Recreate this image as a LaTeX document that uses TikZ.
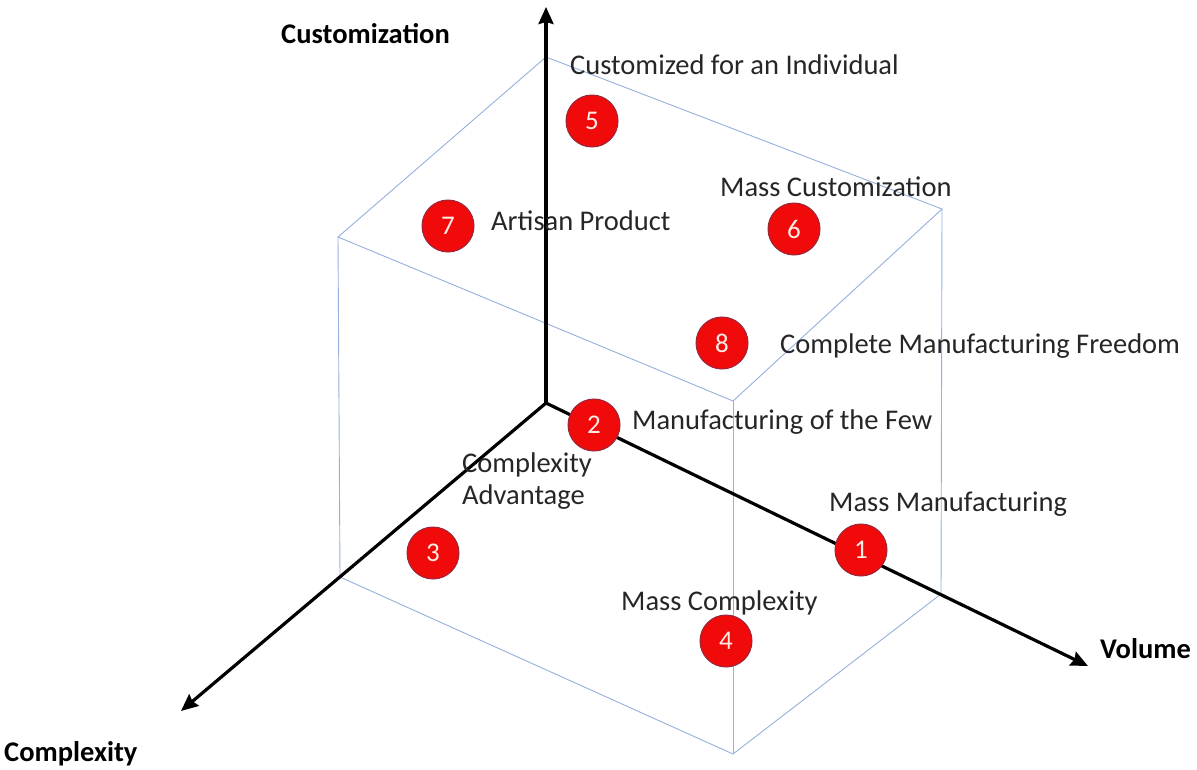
\documentclass[tikz,border=0pt]{standalone}
\usepackage{fontspec}
\setmainfont{Carlito}
\usetikzlibrary{arrows.meta}
\definecolor{cubeblue}{RGB}{150,175,220}
\definecolor{dotred}{RGB}{240,10,10}
\definecolor{dotedge}{RGB}{150,40,60}
\definecolor{numcol}{RGB}{255,235,230}
\tikzset{
  cubeedge/.style={draw=cubeblue, line width=0.9pt},
  axisline/.style={draw=black, line width=3.2pt, -{Stealth[length=17pt,width=15pt,inset=2pt]}},
  dot/.style={circle, fill=dotred, draw=dotedge, line width=1pt, minimum size=52pt, inner sep=0pt,
    text=numcol, font=\fontsize{27}{30}\selectfont},
  lbl/.style={anchor=base west, inner sep=0pt, font=\fontsize{28.5}{32}\selectfont, text=black!85},
  axlbl/.style={anchor=base west, inner sep=0pt, font=\fontsize{28.5}{32}\selectfont\bfseries, text=black}
}
\begin{document}
\begin{tikzpicture}[x=1pt,y=-1pt]
\useasboundingbox (0,0) rectangle (1197,769);
% cube vertices
\coordinate (O) at (546,403);
\coordinate (TB) at (546,57);
\coordinate (LT) at (338,237);
\coordinate (RT) at (942,209);
\coordinate (FT) at (733,401);
\coordinate (LB) at (340,577);
\coordinate (RB) at (941,594);
\coordinate (FB) at (733,754);
% cube edges
\draw[cubeedge] (TB) -- (LT) -- (FT) -- (RT) -- cycle;
\draw[cubeedge] (LT) -- (LB) -- (FB) -- (RB) -- (RT);
\draw[cubeedge] (FT) -- (FB);
\draw[cubeedge] (TB) -- (O);
\draw[cubeedge] (O) -- (LB);
\draw[cubeedge] (O) -- (RB);
% axes
\coordinate (cust) at (546,7);
\coordinate (vol) at (1088,666);
\coordinate (comp) at (181,711);
\draw[axisline] (O) -- (cust);
\draw[axisline] (O) -- (vol);
\draw[axisline] (O) -- (comp);
% axis labels
\node[axlbl] (tcust) at (281,43) {Customization};
\node[axlbl] (tvol) at (1100,658) {Volume};
\node[axlbl] (tcomp) at (4,761) {Complexity};
% dots
\node[dot] (n5) at (592,121) {5};
\node[dot] (n7) at (448,226) {7};
\node[dot] (n6) at (794,229) {6};
\node[dot] (n8) at (722,343) {8};
\node[dot] (n2) at (594,425) {2};
\node[dot] (n3) at (433,553) {3};
\node[dot] (n1) at (861,550) {1};
\node[dot] (n4) at (726,641) {4};
% labels
\node[lbl] (l5) at (570,74) {Customized for an Individual};
\node[lbl] (l6) at (720,196) {Mass Customization};
\node[lbl] (l7) at (491,230) {Artisan Product};
\node[lbl] (l8) at (780,353) {Complete Manufacturing Freedom};
\node[lbl] (l2) at (632,429) {Manufacturing of the Few};
\node[lbl, align=left] (l3) at (462,504) {Complexity\\Advantage};
\node[lbl] (l1) at (829,511) {Mass Manufacturing};
\node[lbl] (l4) at (621,610) {Mass Complexity};
\end{tikzpicture}
\end{document}
